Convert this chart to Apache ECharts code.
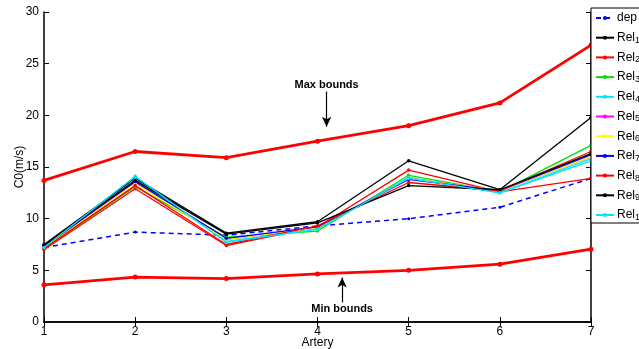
<!DOCTYPE html>
<html><head><meta charset="utf-8">
<script src="https://cdn.jsdelivr.net/npm/echarts@6/dist/echarts.min.js"></script>
<style>html,body{margin:0;padding:0;background:#fff;}#c{width:639px;height:349px;}</style>
</head><body><div id="c"></div>
<script>
const arteries = [1, 2, 3, 4, 5, 6, 7];
const maxBounds = [13.7, 16.5, 15.9, 17.5, 19.0, 21.2, 26.8];
const minBounds = [3.6, 4.35, 4.2, 4.65, 5.0, 5.6, 7.05];
const dep   = [7.2, 8.7, 8.4, 9.3, 10.0, 11.1, 13.9];
const rel1  = [7.5, 13.9, 8.6, 9.7, 15.6, 12.8, 19.8];
const rel2  = [7.0, 12.9, 7.4, 9.2, 14.7, 12.6, 13.9];
const rel3  = [7.1, 13.1, 8.2, 8.8, 14.2, 12.6, 17.1];
const rel4  = [7.2, 13.8, 7.8, 9.0, 14.0, 12.5, 15.8];
const rel5  = [7.2, 13.5, 8.0, 9.1, 13.9, 12.7, 16.0];
const rel6  = [7.2, 13.4, 8.0, 9.1, 13.9, 12.7, 16.0];
const rel7  = [7.3, 13.6, 8.1, 9.2, 13.8, 12.7, 16.2];
const rel8  = [7.1, 13.2, 7.5, 9.3, 13.5, 12.7, 16.5];
const rel9  = [7.4, 13.7, 8.5, 9.6, 13.2, 12.8, 16.3];
const rel10 = [7.2, 14.1, 7.7, 9.0, 13.9, 12.5, 15.6];
const relData = [rel1, rel2, rel3, rel4, rel5, rel6, rel7, rel8, rel9, rel10];
const relColors = ['#000000', '#ff0000', '#00e000', '#00e5ff', '#ff00ff', '#ffff00', '#0000ff', '#ff0000', '#000000', '#00e5ff'];
// annotation anchors (data coords)
const maxNote = {text: 'Max bounds', x: 4.1, yFrom: 22.3, yTo: 18.9};
const minNote = {text: 'Min bounds', x: 4.27, yFrom: 1.9, yTo: 4.3};

const pair = (arr) => arteries.map((a, i) => [a, arr[i]]);
const font = 'Liberation Sans, Arial, sans-serif';

const series = [];
series.push({
  name: 'dep', type: 'line', data: pair(dep), symbol: 'circle', symbolSize: 3,
  lineStyle: {color: '#0000ff', width: 1.5, type: [5, 4]}, itemStyle: {color: '#0000ff'}, z: 3
});
relData.forEach((d, i) => {
  series.push({
    name: 'Rel' + (i + 1), type: 'line', data: pair(d), symbol: 'circle', symbolSize: 3.5,
    lineStyle: {color: relColors[i], width: 1.3}, itemStyle: {color: relColors[i]}, z: 4 + i
  });
});
['max', 'min'].forEach((k) => {
  const arr = k === 'max' ? maxBounds : minBounds;
  series.push({
    name: k + 'Bounds', type: 'line', data: pair(arr), symbol: 'circle', symbolSize: 5,
    lineStyle: {color: '#ff0000', width: 2.8}, itemStyle: {color: '#ff0000'}, z: 20
  });
});
// annotation arrows
series.push({
  name: 'notes', type: 'line', data: [], silent: true,
  markLine: {
    silent: true, symbol: ['none', 'arrow'], symbolSize: [7, 10], animation: false,
    lineStyle: {color: '#000', width: 1.2, type: 'solid'},
    label: {show: true, position: 'start', formatter: (p) => p.name, color: '#000',
            fontWeight: 'bold', fontSize: 11, fontFamily: font, distance: 1},
    data: [maxNote, minNote].map(n => [
      {name: n.text, coord: [n.x, n.yFrom]},
      {coord: [n.x, n.yTo]}
    ])
  }
});

const chart = echarts.init(document.getElementById('c'), null, {renderer: 'canvas'});
const axisLine = {show: true, lineStyle: {color: '#000', width: 1.5}};
chart.setOption({
  animation: false,
  backgroundColor: '#fff',
  grid: {left: 44, right: 48, top: 12, bottom: 27, containLabel: false, outerBoundsMode: 'none'},
  xAxis: [{
    type: 'value', min: 1, max: 7, interval: 1, name: 'Artery', nameLocation: 'middle', nameGap: 15,
    nameMoveOverlap: false,
    nameTextStyle: {color: '#000', fontSize: 12, fontFamily: font},
    axisLine: axisLine, axisTick: {show: true, inside: true, length: 5, lineStyle: {color: '#000'}},
    axisLabel: {color: '#000', fontSize: 12, fontFamily: font, margin: 4}, splitLine: {show: false}
  }, {
    type: 'value', position: 'top', min: 1, max: 7, interval: 1,
    axisLine: axisLine, axisTick: {show: true, inside: true, length: 5, lineStyle: {color: '#000'}},
    axisLabel: {show: false}, splitLine: {show: false}
  }],
  yAxis: [{
    type: 'value', min: 0, max: 30, interval: 5, name: 'C0(m/s)', nameLocation: 'middle', nameGap: 18,
    nameMoveOverlap: false,
    nameTextStyle: {color: '#000', fontSize: 12, fontFamily: font},
    axisLine: axisLine, axisTick: {show: true, inside: true, length: 5, lineStyle: {color: '#000'}},
    axisLabel: {color: '#000', fontSize: 12, fontFamily: font, margin: 5}, splitLine: {show: false}
  }, {
    type: 'value', position: 'right', min: 0, max: 30, interval: 5,
    axisLine: axisLine, axisTick: {show: true, inside: true, length: 5, lineStyle: {color: '#000'}},
    axisLabel: {show: false}, splitLine: {show: false}
  }],
  legend: {
    orient: 'vertical', left: 591, top: 8, padding: [3, 10, 1, 4], itemGap: 1.7,
    itemWidth: 18, itemHeight: 5, backgroundColor: '#fff', borderColor: '#000', borderWidth: 1,
    data: ['dep'].concat(relData.map((d, i) => 'Rel' + (i + 1))),
    formatter: (n) => n === 'dep' ? n : 'Rel{s|' + n.slice(3) + '}',
    textStyle: {color: '#000', fontSize: 12, fontFamily: font, padding: [0, 0, 0, -2], lineHeight: 14,
                rich: {s: {fontSize: 9, fontFamily: font, verticalAlign: 'bottom', lineHeight: 14, padding: [9, 0, 0, 0]}}},
    selectedMode: false, z: 50
  },
  series: series
});
</script></body></html>
